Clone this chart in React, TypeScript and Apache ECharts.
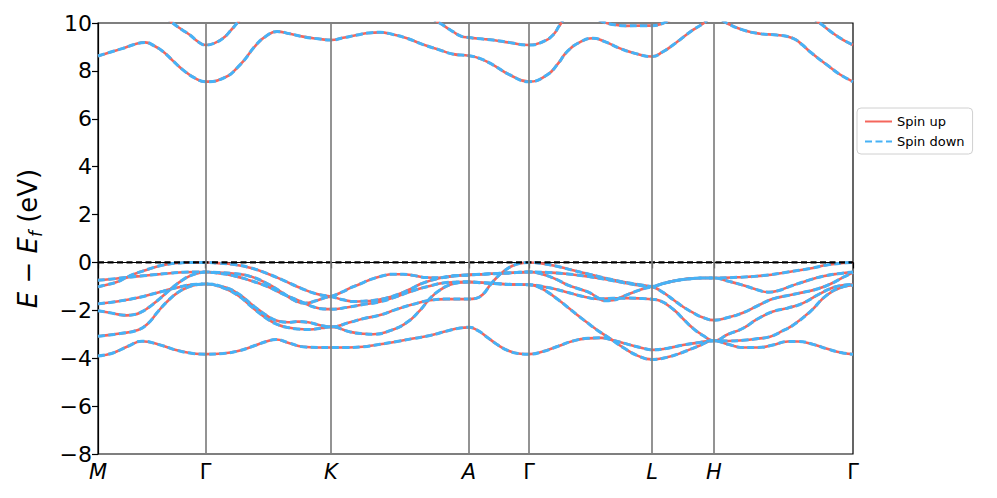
import React, { useEffect, useRef } from "react";
import * as echarts from "echarts";

// High-symmetry path positions (k-path distance) and their labels
const kTicks = [0, 107.5, 233, 371, 431, 554, 616, 755];
const kLabels = ["M", "Γ", "K", "A", "Γ", "L", "H", "Γ"];

const yMin = -8;
const yMax = 10;
const yStep = 2;
const fermiLevel = 0;

// Valence bands [k, E - Ef]
const bandA: number[][] = [
  [0, -1.02], [10, -0.92], [18.7, -0.82], [27, -0.66], [35, -0.5], [44, -0.37], [52, -0.26], [62, -0.14], [72, -0.06], [82, -0.02], [95, 0], [107.5, 0],
  [120, -0.03], [135, -0.08], [152, -0.22], [169, -0.46], [185, -0.74], [202, -1.06], [219, -1.32], [233, -1.42],
  [245, -1.56], [255, -1.63], [265, -1.62], [275, -1.59], [287, -1.5], [299, -1.35], [312, -1.12], [325, -0.86], [342, -0.65], [356, -0.56], [371, -0.52],
  [385, -0.49], [400, -0.46], [415, -0.43], [431, -0.4],
  [450, -0.42], [470, -0.48], [492, -0.6], [510, -0.72], [530, -0.88], [545, -0.98], [554, -1.02],
  [565, -1.25], [575, -1.55], [585, -1.85], [595, -2.1], [605, -2.3], [616, -2.41],
  [630, -2.3], [645, -2.1], [660, -1.8], [675, -1.52], [690, -1.38], [705, -1.25], [720, -1.1], [735, -0.85], [745, -0.62], [755, -0.42],
];

const bandB: number[][] = [
  [0, -0.74], [12, -0.7], [25, -0.64], [42, -0.57], [58.7, -0.5], [72, -0.45], [85, -0.41], [97, -0.4], [107.5, -0.4],
  [120, -0.42], [135, -0.46], [152, -0.58], [169, -0.88], [185, -1.28], [197, -1.6], [207, -1.7], [218, -1.6], [228, -1.46], [233, -1.42],
  [245, -1.22], [252, -1.07], [262, -0.9], [272, -0.72], [283, -0.58], [295, -0.49], [305, -0.49], [315, -0.54], [329, -0.63], [342, -0.64], [356, -0.56], [371, -0.52],
  [385, -0.49], [400, -0.46], [415, -0.43], [431, -0.4],
  [445, -0.5], [458, -0.7], [470, -0.95], [482, -1.12], [492, -1.27], [500, -1.48], [507, -1.6], [515, -1.58], [525, -1.42], [537, -1.22], [548, -1.07], [554, -1.02],
  [565, -0.88], [575, -0.78], [585, -0.71], [595, -0.67], [605, -0.65], [616, -0.65],
  [630, -0.78], [645, -0.95], [660, -1.15], [670, -1.24], [680, -1.18], [692, -1.0], [710, -0.75], [725, -0.58], [740, -0.47], [755, -0.4],
];

const bandC: number[][] = [
  [0, -2.02], [12, -2.1], [20, -2.17], [28.7, -2.21], [36, -2.18], [42, -2.1], [50, -1.9], [58.7, -1.62], [67, -1.32], [75.3, -1.02], [84, -0.75], [92, -0.56], [100, -0.45], [107.5, -0.4],
  [120, -0.45], [135, -0.55], [152, -0.75], [169, -1.0], [185, -1.32], [202, -1.62], [215, -1.85], [225, -1.94], [233, -1.95],
  [250, -1.87], [265, -1.76], [282, -1.64], [299, -1.42], [315, -1.18], [332, -0.98], [345, -0.86], [358, -0.82], [371, -0.81],
  [385, -0.85], [400, -0.89], [415, -0.92], [431, -0.93],
  [450, -1.05], [467, -1.22], [485, -1.42], [500, -1.52], [515, -1.5], [530, -1.49], [545, -1.51], [554, -1.54],
  [562, -1.6], [575, -1.95], [585, -2.35], [595, -2.75], [605, -3.05], [616, -3.27],
  [630, -3.0], [645, -2.75], [660, -2.35], [675, -2.05], [690, -1.9], [705, -1.7], [720, -1.35], [735, -1.05], [745, -0.95], [755, -0.92],
];

const bandD: number[][] = [
  [0, -3.08], [20, -2.98], [40, -2.82], [50, -2.55], [60, -2.05], [70, -1.6], [80, -1.25], [90, -1.03], [100, -0.92], [107.5, -0.9],
  [125, -1.02], [140, -1.3], [155, -1.8], [170, -2.25], [180, -2.45], [190, -2.5], [200, -2.47], [210, -2.5], [222, -2.62], [233, -2.69],
  [252, -2.5], [265, -2.35], [282, -2.2], [299, -1.95], [315, -1.75], [332, -1.58], [349, -1.53], [371, -1.53],
  [378, -1.5], [385, -1.33], [392, -0.95], [399, -0.62], [406, -0.36], [414, -0.15], [422, -0.04], [431, 0],
  [445, -0.05], [460, -0.17], [475, -0.33], [492, -0.5], [510, -0.68], [530, -0.85], [545, -0.95], [554, -1.0],
  [565, -0.88], [575, -0.78], [585, -0.71], [595, -0.67], [605, -0.65], [616, -0.65],
  [640, -0.62], [665, -0.55], [690, -0.4], [712, -0.25], [730, -0.1], [745, -0.02], [755, 0],
];

const bandE: number[][] = [
  [0, -1.73], [18.7, -1.63], [42, -1.45], [65, -1.2], [85, -0.99], [98.7, -0.91], [107.5, -0.9],
  [125, -1.06], [140, -1.38], [155, -1.9], [170, -2.38], [180, -2.6], [190, -2.72], [200, -2.78], [212, -2.8], [224, -2.74], [233, -2.69],
  [252, -2.9], [265, -2.98], [275, -3.0], [292, -2.85], [309, -2.5], [322, -2.0], [332, -1.5], [342, -1.15], [352, -0.93], [362, -0.84], [371, -0.82],
  [385, -0.85], [400, -0.89], [415, -0.92], [431, -0.93],
  [440, -1.02], [450, -1.25], [460, -1.55], [470, -1.88], [480, -2.22], [492, -2.6], [500, -2.85], [510, -3.12], [525, -3.55], [540, -3.9], [554, -4.05],
  [570, -3.95], [585, -3.75], [600, -3.5], [616, -3.27],
  [630, -3.28], [645, -3.25], [660, -3.18], [672, -3.1], [685, -2.85], [695, -2.62], [712, -2.06], [729, -1.36], [745, -1.02], [755, -0.95],
];

const bandF: number[][] = [
  [0, -3.91], [15, -3.78], [30, -3.5], [44, -3.29], [60, -3.42], [80, -3.68], [95, -3.8], [107.5, -3.83],
  [125, -3.8], [140, -3.7], [155, -3.5], [170, -3.28], [178, -3.22], [190, -3.35], [205, -3.52], [220, -3.55], [233, -3.55],
  [250, -3.55], [265, -3.52], [282, -3.42], [299, -3.3], [315, -3.18], [332, -3.05], [350, -2.85], [362, -2.74], [371, -2.71],
  [380, -2.85], [390, -3.15], [400, -3.45], [410, -3.68], [420, -3.8], [431, -3.83],
  [445, -3.72], [460, -3.5], [475, -3.28], [490, -3.17], [503, -3.15], [515, -3.25], [530, -3.42], [545, -3.58], [554, -3.65],
  [570, -3.58], [585, -3.45], [600, -3.35], [616, -3.27],
  [630, -3.42], [645, -3.55], [660, -3.55], [675, -3.45], [690, -3.3], [700, -3.3], [715, -3.42], [730, -3.62], [745, -3.78], [755, -3.83],
];

// Conduction bands
const bandG: number[][] = [
  [0, 8.62], [12, 8.78], [25, 8.94], [36, 9.1], [47, 9.19], [56, 9.05], [65, 8.81], [75, 8.42], [85, 8.04], [97, 7.7], [107.5, 7.55],
  [125, 7.69], [142, 8.25], [158, 9.08], [168, 9.45], [179, 9.64], [192, 9.55], [205, 9.43], [220, 9.34], [233, 9.29],
  [245, 9.38], [259, 9.5], [270, 9.58], [282, 9.61], [295, 9.52], [309, 9.36], [325, 9.1], [342, 8.87], [355, 8.7], [371, 8.63],
  [383, 8.5], [395, 8.25], [412, 7.83], [431, 7.55],
  [449, 7.83], [460, 8.3], [469, 8.8], [482, 9.2], [495, 9.36], [508, 9.2], [522, 8.94], [538, 8.72], [554, 8.6],
  [565, 8.8], [575, 9.08], [585, 9.4], [595, 9.71], [605, 9.97], [616, 10.3],
  [629, 9.99], [645, 9.71], [662, 9.55], [679, 9.5], [695, 9.36], [704, 9.1], [712, 8.8], [729, 8.25], [742, 7.85], [755, 7.55],
];

const bandH: number[][] = [
  [0, 11.5], [40, 11.0], [65, 10.35], [75, 9.99], [84, 9.72], [92, 9.5], [100, 9.22], [107.5, 9.08],
  [116, 9.15], [125, 9.36], [133, 9.7], [139, 9.99], [150, 10.5], [190, 11.0], [233, 11.0],
  [290, 10.8], [330, 10.25], [342, 9.99], [349, 9.8], [355, 9.64], [363, 9.45], [371, 9.39],
  [385, 9.33], [395, 9.29], [412, 9.18], [431, 9.08],
  [445, 9.22], [455, 9.5], [462, 9.92], [470, 10.3], [490, 10.3], [505, 10.05], [512, 9.96], [528, 9.88], [545, 9.89], [554, 9.89],
  [565, 9.99], [580, 10.3], [616, 10.8],
  [680, 10.8], [710, 10.3], [722, 9.99], [735, 9.57], [745, 9.3], [755, 9.08],
];

const bands = [bandA, bandB, bandC, bandD, bandE, bandF, bandG, bandH];

const FONT = "DejaVu Sans";
const RED = "#f4665c";
const BLUE = "#46b2f6";

export default function App() {
  const ref = useRef<HTMLDivElement>(null);

  useEffect(() => {
    const chart = echarts.init(ref.current!, null, { renderer: "svg" });
    const series: any[] = [];

    series.push({
      type: "line",
      name: "guides",
      data: [],
      z: 1,
      silent: true,
      markLine: {
        symbol: "none",
        silent: true,
        animation: false,
        label: { show: false },
        lineStyle: { color: "#808080", width: 1.7, type: "solid" },
        data: kTicks.slice(1, -1).map((k) => ({ xAxis: k })),
      },
    });

    bands.forEach((b) =>
      series.push({
        type: "line",
        name: "Spin up",
        data: b,
        symbol: "none",
        showSymbol: false,
        smooth: 0.5,
        silent: true,
        z: 2,
        lineStyle: { color: RED, width: 2.6 },
        itemStyle: { color: RED },
      })
    );
    bands.forEach((b) =>
      series.push({
        type: "line",
        name: "Spin down",
        data: b,
        symbol: "none",
        showSymbol: false,
        smooth: 0.5,
        silent: true,
        z: 3,
        lineStyle: { color: BLUE, width: 3, type: [7, 3.5] },
        itemStyle: { color: BLUE },
      })
    );

    series.push({
      type: "line",
      name: "fermi",
      data: [
        [kTicks[0], fermiLevel],
        [kTicks[kTicks.length - 1], fermiLevel],
      ],
      symbol: "none",
      showSymbol: false,
      silent: true,
      z: 4,
      lineStyle: { color: "#000", width: 2.2, type: [6, 3.5] },
    });

    chart.setOption({
      animation: false,
      backgroundColor: "#fff",
      textStyle: { fontFamily: FONT },
      grid: {
        left: 98,
        top: 23,
        width: 755,
        height: 431,
        show: true,
        borderColor: "#000",
        borderWidth: 1.2,
        backgroundColor: "transparent",
      },
      legend: {
        data: ["Spin up", "Spin down"],
        orient: "vertical",
        left: 857,
        top: 108,
        backgroundColor: "#fff",
        borderColor: "#d0d0d0",
        borderWidth: 1,
        borderRadius: 4,
        padding: [7, 8, 6, 7],
        itemGap: 7,
        itemWidth: 27,
        itemHeight: 12,
        selectedMode: false,
        itemStyle: { opacity: 0 },
        textStyle: { fontSize: 13, color: "#000", fontFamily: FONT },
      },
      xAxis: {
        type: "value",
        min: kTicks[0],
        max: kTicks[kTicks.length - 1],
        splitLine: { show: false },
        axisLine: { show: true, lineStyle: { color: "#000", width: 1.2 } },
        axisTick: {
          show: true,
          customValues: kTicks,
          length: 6,
          lineStyle: { color: "#000", width: 1.2 },
        },
        axisLabel: {
          show: true,
          customValues: kTicks,
          margin: 7,
          color: "#000",
          fontSize: 21,
          fontFamily: FONT,
          formatter: (v: number) => {
            const i = kTicks.findIndex((k) => Math.abs(k - v) < 1e-6);
            if (i < 0) return "";
            const lab = kLabels[i];
            return lab === "Γ" ? `{g|${lab}}` : `{it|${lab}}`;
          },
          rich: {
            it: { fontStyle: "italic", fontSize: 21, fontFamily: FONT, color: "#000" },
            g: { fontSize: 21, fontFamily: FONT, color: "#000" },
          },
        },
      },
      yAxis: {
        type: "value",
        min: yMin,
        max: yMax,
        interval: yStep,
        splitLine: { show: false },
        axisLine: { show: true, lineStyle: { color: "#000", width: 1.2 } },
        axisTick: { show: true, length: 6, lineStyle: { color: "#000", width: 1.2 } },
        axisLabel: {
          color: "#000",
          fontSize: 22,
          fontFamily: FONT,
          margin: 6,
          formatter: (v: number) => (v < 0 ? "\u2212" + Math.abs(v) : String(v)),
        },
        name: "{i|E} \u2212 {i|E}{s|f} (eV)",
        nameLocation: "middle",
        nameRotate: 90,
        nameGap: 54,
        nameTextStyle: {
          fontSize: 26,
          fontFamily: FONT,
          color: "#000",
          lineHeight: 32,
          rich: {
            i: { fontStyle: "italic", fontSize: 26, fontFamily: FONT, color: "#000", lineHeight: 32 },
            s: {
              fontStyle: "italic",
              fontSize: 17,
              fontFamily: FONT,
              color: "#000",
              lineHeight: 17,
              verticalAlign: "bottom",
            },
          },
        },
      },
      series,
    });

    return () => chart.dispose();
  }, []);

  return (
    <div
      ref={ref}
      style={{ position: "absolute", left: 0, top: 0, width: 997, height: 498 }}
    />
  );
}
